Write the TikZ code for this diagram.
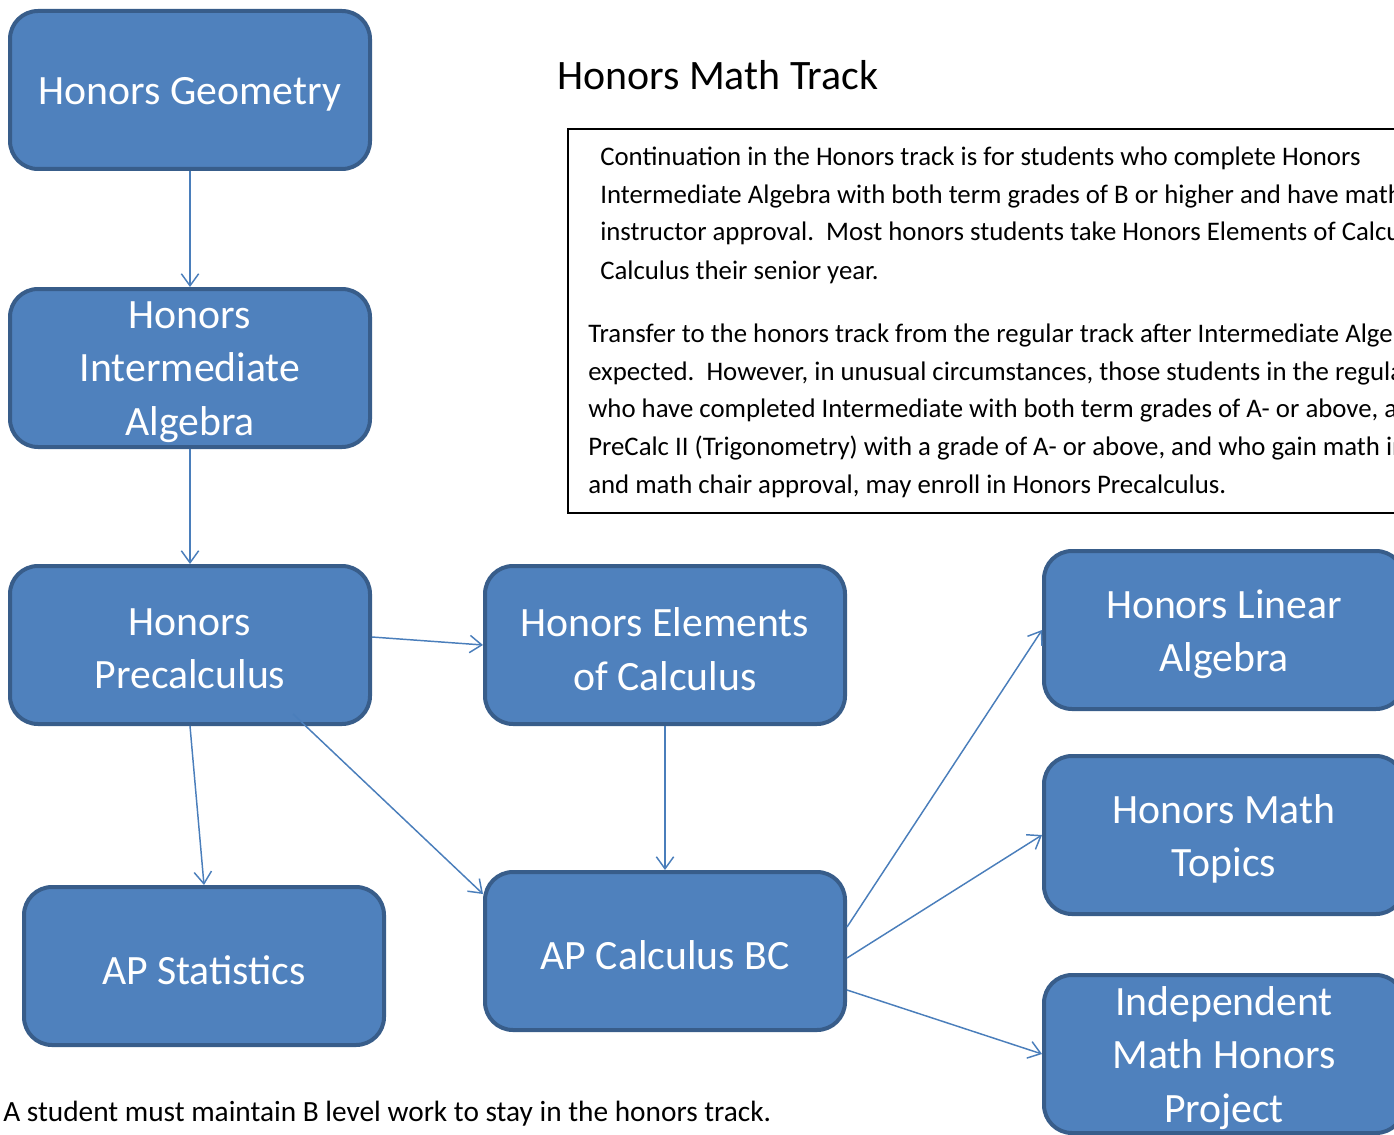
\documentclass[tikz,border=0pt]{standalone}
\usepackage{fontspec}
\setmainfont{Carlito}
\usetikzlibrary{arrows.meta,calc}
\definecolor{boxfill}{HTML}{4F81BD}
\definecolor{boxline}{HTML}{385D8A}
\definecolor{arrowcol}{HTML}{4A7EBB}
\tikzset{
  course/.style={draw=boxline, fill=boxfill, line width=3pt, rounded corners=21pt,
    minimum width=270pt, minimum height=118.5pt, inner sep=0pt},
  coursetext/.style={text=white, align=center, font=\fontsize{31.3}{40}\selectfont, inner sep=0pt},
  link/.style={draw=arrowcol, line width=1.1pt, -{Straight Barb[length=9pt,width=13pt,line width=1.1pt]}},
  bodytext/.style={anchor=base west, inner sep=0pt, font=\fontsize{20.1}{24}\selectfont},
}
\begin{document}
\begin{tikzpicture}[x=0.75pt,y=-0.75pt]
\useasboundingbox (0,0) rectangle (1394,1134);
\clip (0,0) rectangle (1394,1134);

\node[course] (geo) at (190,90) {};
\node[course] (ia) at (190,368) {};
\node[course] (pre) at (190,645) {};
\node[course] (el) at (665,645) {};
\node[course] (stat) at (204,966) {};
\node[course] (apc) at (665,951) {};
\node[course] (lin) at (1224,630) {};
\node[course] (top) at (1224,835) {};
\node[course] (proj) at (1224,1054) {};

\node[coursetext] (geot) at ([yshift=-3pt]geo.center) {Honors Geometry};
\node[coursetext] (iat) at ([yshift=-3pt]ia.center) {Honors\\Intermediate\\Algebra};
\node[coursetext] (pret) at ([yshift=-3pt]pre.center) {Honors\\Precalculus};
\node[coursetext] (elt) at ([yshift=-3pt]el.center) {Honors Elements\\of Calculus};
\node[coursetext] (statt) at ([yshift=-3pt]stat.center) {AP Statistics};
\node[coursetext] (apct) at ([yshift=-3pt]apc.center) {AP Calculus BC};
\node[coursetext] (lint) at ([yshift=-3pt]lin.center) {Honors Linear\\Algebra};
\node[coursetext] (topt) at ([yshift=-3pt]top.center) {Honors Math\\Topics};
\node[coursetext] (projt) at ([yshift=-3pt]proj.center) {Independent\\Math Honors\\Project};

\draw[link] (geo.south) -- (ia.north);
\draw[link] (ia.south) -- (pre.north);
\draw[link] ($(pre.east)+(0,-8)$) -- (el.west);
\draw[link] (pre.south) -- (stat.north);
\draw[link] ($(pre.south)+(103,-12)$) -- ($(apc.north west)+(0,24)$);
\draw[link] (el.south) -- (apc.north);
\draw[link] ($(apc.east)+(0,-24)$) -- (lin.west);
\draw[link] ($(apc.east)+(0,7)$) -- (top.west);
\draw[link] ($(apc.east)+(0,39)$) -- (proj.west);

\node[anchor=base west, inner sep=0pt, font=\fontsize{31.4}{36}\selectfont] (title) at (557,90) {Honors Math Track};

\node[draw=black, line width=1.5pt, minimum width=625pt, minimum height=288pt, anchor=north west, inner sep=0pt] (tbox) at (567,128) {};

\node[bodytext] (p1) at (600,166) {Continuation in the Honors track is for students who complete Honors};
\node[bodytext] (p2) at (600,204) {Intermediate Algebra with both term grades of B or higher and have math};
\node[bodytext] (p3) at (600,241) {instructor approval.\ \ Most honors students take Honors Elements of Calculus};
\node[bodytext] (p4) at (600,279) {Calculus their senior year.};

\node[bodytext] (q1) at (588,342) {Transfer to the honors track from the regular track after Intermediate Algebra};
\node[bodytext] (q2) at (588,380) {expected.\ \ However, in unusual circumstances, those students in the regular};
\node[bodytext] (q3) at (588,417) {who have completed Intermediate with both term grades of A- or above, and};
\node[bodytext] (q4) at (588,455) {PreCalc II (Trigonometry) with a grade of A- or above, and who gain math instructor};
\node[bodytext] (q5) at (588,493) {and math chair approval, may enroll in Honors Precalculus.};

\node[anchor=base west, inner sep=0pt, font=\fontsize{22}{26}\selectfont] (foot) at (3,1121) {A student must maintain B level work to stay in the honors track.};
\end{tikzpicture}
\end{document}
